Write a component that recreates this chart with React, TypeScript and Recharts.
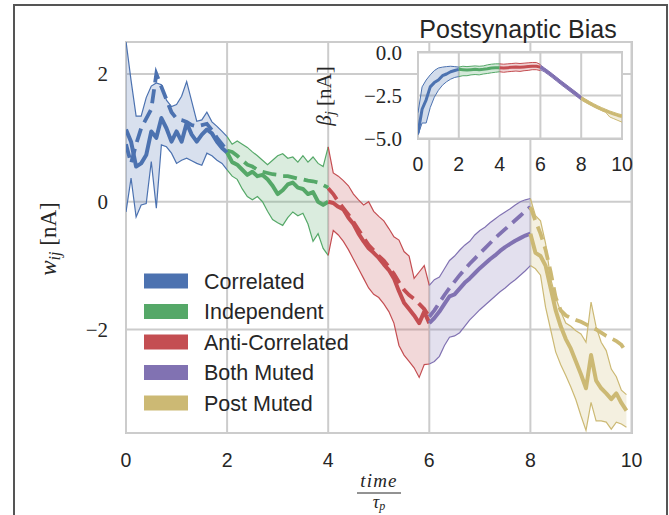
import React from 'react';
import { ComposedChart, Line, Area, XAxis, YAxis, CartesianGrid } from 'recharts';

const SEGMENT_NAMES = ['Correlated', 'Independent', 'Anti-Correlated', 'Both Muted', 'Post Muted'];
const SEGMENT_KEYS = ['corr', 'indep', 'anti', 'both', 'post'];
const SEGMENT_STARTS = [0, 2, 4, 6, 8];
const COLORS = ['#4C72B0', '#55A868', '#C44E52', '#8172B2', '#CCB974'];
const STEP = 0.1;
const INSET_STEP = 0.2;

const X_TICKS = [0, 2, 4, 6, 8, 10];
const Y_TICKS = [-2, 0, 2];
const INSET_Y_TICKS = [-5, -2.5, 0];

// ---- main panel: w_ij (x = segment start + i*0.1) ----
const corrMean = [1.13, 0.94, 0.55, 0.6, 0.73, 1.1, 1.0, 1.31, 1.15, 0.94, 1.1, 0.94, 1.23, 1.05, 0.94, 1.05, 1.13, 1.07, 0.94, 0.84, 0.77];
const corrDash = [0.9, 0.6, 0.9, 1.15, 1.3, 1.45, 2.0, 1.8, 1.6, 1.4, 1.3, 1.28, 1.25, 1.2, 1.18, 1.2, 1.22, 1.12, 1.0, 0.9, 0.8];
const corrLo = [-0.16, 0.37, -0.24, -0.05, -0.03, 0.63, -0.1, 0.89, 0.86, 0.76, 0.6, 0.65, 0.68, 0.64, 0.6, 0.57, 0.76, 0.72, 0.65, 0.6, 0.5];
const corrHi = [2.51, 1.9, 1.34, 1.34, 1.63, 1.81, 1.86, 1.83, 1.59, 1.49, 1.52, 1.65, 1.88, 1.57, 1.26, 1.28, 1.4, 1.25, 1.18, 1.1, 1.02];

const indepMean = [0.77, 0.62, 0.58, 0.5, 0.42, 0.47, 0.4, 0.42, 0.35, 0.25, 0.12, 0.18, 0.27, 0.3, 0.22, 0.2, 0.12, 0.15, 0.0, -0.05, 0.0];
const indepDash = [0.8, 0.78, 0.72, 0.65, 0.58, 0.55, 0.5, 0.47, 0.45, 0.43, 0.42, 0.4, 0.4, 0.38, 0.36, 0.35, 0.33, 0.32, 0.3, 0.26, 0.22];
const indepLo = [0.5, 0.4, 0.35, 0.2, 0.08, 0.03, 0.08, 0.0, -0.15, -0.28, -0.33, -0.37, -0.25, -0.16, -0.22, -0.18, -0.35, -0.62, -0.5, -0.73, -0.84];
const indepHi = [1.02, 0.9, 0.95, 0.9, 0.85, 0.78, 0.72, 0.65, 0.58, 0.65, 0.72, 0.75, 0.68, 0.7, 0.62, 0.72, 0.62, 0.7, 0.6, 0.55, 0.86];

const antiMean = [0.0, -0.02, -0.08, -0.12, -0.25, -0.35, -0.5, -0.62, -0.73, -0.8, -0.88, -0.98, -1.07, -1.2, -1.4, -1.58, -1.68, -1.78, -1.9, -1.72, -1.9];
const antiDash = [0.21, 0.12, 0.0, -0.1, -0.2, -0.32, -0.44, -0.56, -0.68, -0.76, -0.85, -0.92, -1.02, -1.13, -1.26, -1.38, -1.46, -1.52, -1.6, -1.68, -1.8];
const antiLo = [-0.84, -0.45, -0.52, -0.62, -0.75, -0.9, -1.05, -1.2, -1.35, -1.45, -1.5, -1.6, -1.72, -1.9, -2.25, -2.4, -2.5, -2.6, -2.75, -2.55, -2.54];
const antiHi = [0.86, 0.45, 0.4, 0.33, 0.25, 0.12, 0.03, -0.05, 0.0, -0.15, -0.23, -0.3, -0.42, -0.55, -0.6, -0.78, -0.85, -1.2, -1.1, -1.0, -1.31];

const bothMean = [-1.9, -1.82, -1.72, -1.6, -1.48, -1.45, -1.36, -1.27, -1.2, -1.12, -1.04, -0.97, -0.9, -0.84, -0.77, -0.71, -0.66, -0.61, -0.57, -0.53, -0.5];
const bothDash = [-1.8, -1.7, -1.58, -1.46, -1.35, -1.25, -1.15, -1.06, -0.97, -0.89, -0.81, -0.73, -0.65, -0.57, -0.5, -0.43, -0.36, -0.29, -0.22, -0.15, -0.08];
const bothLo = [-2.54, -2.5, -2.42, -2.25, -2.12, -2.1, -2.05, -1.95, -1.85, -1.77, -1.69, -1.62, -1.55, -1.48, -1.41, -1.35, -1.28, -1.22, -1.15, -1.08, -1.0];
const bothHi = [-1.31, -1.22, -1.18, -1.05, -0.92, -0.85, -0.76, -0.68, -0.62, -0.52, -0.45, -0.4, -0.33, -0.27, -0.21, -0.16, -0.11, -0.05, 0.0, 0.03, 0.05];

const postMean = [-0.5, -0.8, -0.85, -1.0, -1.35, -1.7, -1.95, -2.15, -2.3, -2.5, -2.7, -2.92, -2.4, -2.8, -2.92, -3.0, -3.09, -3.0, -3.15, -3.27];
const postDash = [-0.08, -0.3, -0.5, -0.75, -1.1, -1.5, -1.7, -1.78, -1.82, -1.85, -1.88, -1.92, -1.96, -2.0, -2.05, -2.1, -2.14, -2.18, -2.24, -2.36];
const postLo = [-1.0, -1.05, -1.15, -1.65, -2.0, -2.35, -2.55, -2.72, -2.9, -3.1, -3.35, -3.58, -3.14, -3.43, -3.43, -3.45, -3.56, -3.45, -3.48, -3.53];
const postHi = [0.05, -0.22, -0.3, -0.65, -1.2, -1.5, -1.72, -1.9, -1.95, -2.02, -2.07, -2.2, -1.57, -1.96, -2.2, -2.33, -2.62, -2.74, -2.95, -3.02];

// ---- inset: beta_j (x = segment start + i*0.2) ----
const insCorrMean = [-4.7, -3.3, -2.75, -2.0, -1.75, -1.6, -1.35, -1.25, -1.12, -1.05, -0.98];
const insCorrLo = [-4.8, -4.1, -4.1, -3.2, -2.6, -2.2, -1.9, -1.7, -1.55, -1.45, -1.4];
const insCorrHi = [-3.5, -2.0, -1.6, -1.3, -1.05, -0.9, -0.85, -0.82, -0.8, -0.82, -0.85];
const insIndepMean = [-0.98, -1.0, -1.02, -1.0, -0.98, -1.0, -0.98, -0.95, -0.9, -0.88, -0.88];
const insIndepLo = [-1.4, -1.35, -1.35, -1.3, -1.28, -1.3, -1.25, -1.22, -1.18, -1.15, -1.12];
const insIndepHi = [-0.85, -0.8, -0.82, -0.8, -0.78, -0.8, -0.78, -0.72, -0.68, -0.66, -0.66];
const insAntiMean = [-0.88, -0.9, -0.88, -0.86, -0.85, -0.86, -0.84, -0.82, -0.8, -0.8, -0.85];
const insAntiLo = [-1.12, -1.15, -1.12, -1.1, -1.08, -1.1, -1.06, -1.04, -1.0, -1.0, -1.05];
const insAntiHi = [-0.66, -0.68, -0.66, -0.64, -0.62, -0.64, -0.62, -0.6, -0.58, -0.58, -0.7];
const insBothMean = [-0.85, -1.0, -1.18, -1.36, -1.55, -1.74, -1.92, -2.1, -2.28, -2.46, -2.65];
const insBothLo = [-1.0, -1.13, -1.3, -1.48, -1.67, -1.86, -2.04, -2.22, -2.4, -2.58, -2.76];
const insBothHi = [-0.72, -0.9, -1.07, -1.25, -1.44, -1.63, -1.81, -1.99, -2.17, -2.35, -2.55];
const insPostMean = [-2.65, -2.8, -2.94, -3.07, -3.19, -3.3, -3.4, -3.5, -3.58, -3.66, -3.72];
const insPostLo = [-2.76, -2.9, -3.03, -3.15, -3.27, -3.38, -3.48, -3.75, -3.85, -3.95, -4.05];
const insPostHi = [-2.55, -2.7, -2.84, -2.97, -3.09, -3.2, -3.3, -3.4, -3.48, -3.56, -3.62];

type Seg = { mean: number[]; dash?: number[]; lo: number[]; hi: number[] };

const MAIN_SERIES: Seg[] = [
  { mean: corrMean, dash: corrDash, lo: corrLo, hi: corrHi },
  { mean: indepMean, dash: indepDash, lo: indepLo, hi: indepHi },
  { mean: antiMean, dash: antiDash, lo: antiLo, hi: antiHi },
  { mean: bothMean, dash: bothDash, lo: bothLo, hi: bothHi },
  { mean: postMean, dash: postDash, lo: postLo, hi: postHi },
];
const INSET_SERIES: Seg[] = [
  { mean: insCorrMean, lo: insCorrLo, hi: insCorrHi },
  { mean: insIndepMean, lo: insIndepLo, hi: insIndepHi },
  { mean: insAntiMean, lo: insAntiLo, hi: insAntiHi },
  { mean: insBothMean, lo: insBothLo, hi: insBothHi },
  { mean: insPostMean, lo: insPostLo, hi: insPostHi },
];

function buildTable(series: Seg[], step: number) {
  const rows = new Map<number, any>();
  series.forEach((s, si) => {
    const k = SEGMENT_KEYS[si];
    s.mean.forEach((m, i) => {
      const id = Math.round((SEGMENT_STARTS[si] + i * step) * 10);
      let row = rows.get(id);
      if (!row) {
        row = { t: id / 10 };
        rows.set(id, row);
      }
      row[k + '_m'] = m;
      if (s.dash) row[k + '_d'] = s.dash[i];
      row[k + '_lo'] = s.lo[i];
      row[k + '_hi'] = s.hi[i];
      row[k + '_r'] = [s.lo[i], s.hi[i]];
    });
  });
  return Array.from(rows.values()).sort((a, b) => a.t - b.t);
}

const mainData = buildTable(MAIN_SERIES, STEP);
const insetData = buildTable(INSET_SERIES, INSET_STEP);

const SANS = "'Liberation Sans', Arial, sans-serif";
const SERIF = "'Liberation Serif', 'Times New Roman', serif";
const TEXT = '#262626';
const GRID = '#cccccc';

const fmtMain = (v: number) => (v < 0 ? '\u2212' + Math.abs(v) : String(v));
const fmtInset = (v: number) => (v < 0 ? '\u2212' : '') + Math.abs(v).toFixed(1);

function seriesElements(withDash: boolean, meanW: number, edgeW: number, fillOp: number) {
  const out: React.ReactNode[] = [];
  SEGMENT_KEYS.forEach((k, i) => {
    out.push(
      <Area key={k + 'r'} dataKey={k + '_r'} type="linear" stroke="none" fill={COLORS[i]} fillOpacity={fillOp}
        isAnimationActive={false} activeDot={false} dot={false} />
    );
  });
  SEGMENT_KEYS.forEach((k, i) => {
    out.push(
      <Line key={k + 'lo'} dataKey={k + '_lo'} type="linear" stroke={COLORS[i]} strokeWidth={edgeW} dot={false}
        activeDot={false} isAnimationActive={false} />
    );
    out.push(
      <Line key={k + 'hi'} dataKey={k + '_hi'} type="linear" stroke={COLORS[i]} strokeWidth={edgeW} dot={false}
        activeDot={false} isAnimationActive={false} />
    );
  });
  if (withDash) {
    SEGMENT_KEYS.forEach((k, i) => {
      out.push(
        <Line key={k + 'd'} dataKey={k + '_d'} type="linear" stroke={COLORS[i]} strokeWidth={3.8}
          strokeDasharray="14 7" dot={false} activeDot={false} isAnimationActive={false} />
      );
    });
  }
  SEGMENT_KEYS.forEach((k, i) => {
    out.push(
      <Line key={k + 'm'} dataKey={k + '_m'} type="linear" stroke={COLORS[i]} strokeWidth={meanW} dot={false}
        activeDot={false} isAnimationActive={false} strokeLinejoin="round" />
    );
  });
  return out;
}

export default function App() {
  const abs: React.CSSProperties = { position: 'absolute' };
  return (
    <div style={{ position: 'absolute', left: 0, top: 0, width: 669, height: 515, overflow: 'hidden', background: '#fff' }}>
      {/* figure border */}
      <div style={{ ...abs, left: 13, top: 4, width: 651, height: 560, borderLeft: '2px solid #555', borderTop: '2px solid #555', borderRight: '2px solid #555', boxSizing: 'content-box' }} />
      {/* main axes frame */}
      <div style={{ ...abs, left: 124.75, top: 40.75, width: 508, height: 393.5, border: '2.5px solid #c8c8c8', boxSizing: 'border-box' }} />
      <div style={{ ...abs, left: 0, top: 0 }}>
        <ComposedChart width={669} height={515} data={mainData} margin={{ top: 42, right: 37.5, bottom: 52, left: 66 }}>
          <CartesianGrid stroke={GRID} strokeWidth={2} />
          <XAxis type="number" dataKey="t" domain={[0, 10]} ticks={X_TICKS} interval={0} allowDataOverflow
            axisLine={false} tickLine={false} tickMargin={14} height={30}
            tick={{ fill: TEXT, fontSize: 19.5, fontFamily: SANS }} />
          <YAxis type="number" domain={[-3.62, 2.5]} ticks={Y_TICKS} interval={0} allowDataOverflow width={60}
            axisLine={false} tickLine={false} tickMargin={12} tickFormatter={fmtMain}
            tick={{ fill: TEXT, fontSize: 21, fontFamily: SERIF }} />
          {seriesElements(true, 4, 1.2, 0.22)}
        </ComposedChart>
      </div>
      {/* inset frame with white background */}
      <div style={{ ...abs, left: 417, top: 51.25, width: 206.25, height: 88.5, border: '2.5px solid #c8c8c8', background: '#fff', boxSizing: 'border-box' }} />
      <div style={{ ...abs, left: 340, top: 35 }}>
        <ComposedChart width={300} height={150} data={insetData} margin={{ top: 17.5, right: 18, bottom: 16.5, left: 28 }}>
          <CartesianGrid stroke={GRID} strokeWidth={2} />
          <XAxis type="number" dataKey="t" domain={[0, 10]} ticks={X_TICKS} interval={0} allowDataOverflow
            axisLine={false} tickLine={false} tickMargin={12.5} height={30}
            tick={{ fill: TEXT, fontSize: 19.5, fontFamily: SANS }} />
          <YAxis type="number" domain={[-5, 0]} ticks={INSET_Y_TICKS} interval={0} allowDataOverflow width={50}
            axisLine={false} tickLine={false} tickMargin={10} tickFormatter={fmtInset}
            tick={{ fill: TEXT, fontSize: 21, fontFamily: SERIF }} />
          {seriesElements(false, 3, 1, 0.25)}
        </ComposedChart>
      </div>
      {/* labels, title, legend */}
      <svg width={669} height={515} style={{ ...abs, left: 0, top: 0, pointerEvents: 'none' }}>
        <text x={518} y={38} textAnchor="middle" fontFamily={SANS} fontSize={25} fill={TEXT}>Postsynaptic Bias</text>
        <text x={56} y={239} transform="rotate(-90 56 239)" textAnchor="middle" fontFamily={SERIF} fontSize={23} fill={TEXT}>
          <tspan fontStyle="italic">w</tspan>
          <tspan fontStyle="italic" fontSize={16} dy={4}>ij</tspan>
          <tspan dy={-4}> [nA]</tspan>
        </text>
        <text x={331} y={96} transform="rotate(-90 331 96)" textAnchor="middle" fontFamily={SERIF} fontSize={21} fill={TEXT}>
          <tspan fontStyle="italic">β</tspan>
          <tspan fontStyle="italic" fontSize={15} dy={4}>j</tspan>
          <tspan dy={-4}> [nA]</tspan>
        </text>
        <text x={379} y={487} textAnchor="middle" fontFamily={SERIF} fontStyle="italic" fontSize={19} letterSpacing={1.2} fill={TEXT}>time</text>
        <line x1={357} x2={401} y1={493} y2={493} stroke={TEXT} strokeWidth={1} />
        <text x={379} y={508} textAnchor="middle" fontFamily={SERIF} fontSize={18} fill={TEXT}>
          <tspan fontStyle="italic">τ</tspan>
          <tspan fontStyle="italic" fontSize={12} dy={2}>p</tspan>
        </text>
        {SEGMENT_NAMES.map((name, i) => {
          const cy = 281 + i * 30.5;
          return (
            <g key={name}>
              <rect x={144} y={cy - 7.5} width={44} height={15} fill={COLORS[i]} />
              <text x={204} y={cy + 7.5} fontFamily={SANS} fontSize={21.5} fill={TEXT}>{name}</text>
            </g>
          );
        })}
      </svg>
    </div>
  );
}
